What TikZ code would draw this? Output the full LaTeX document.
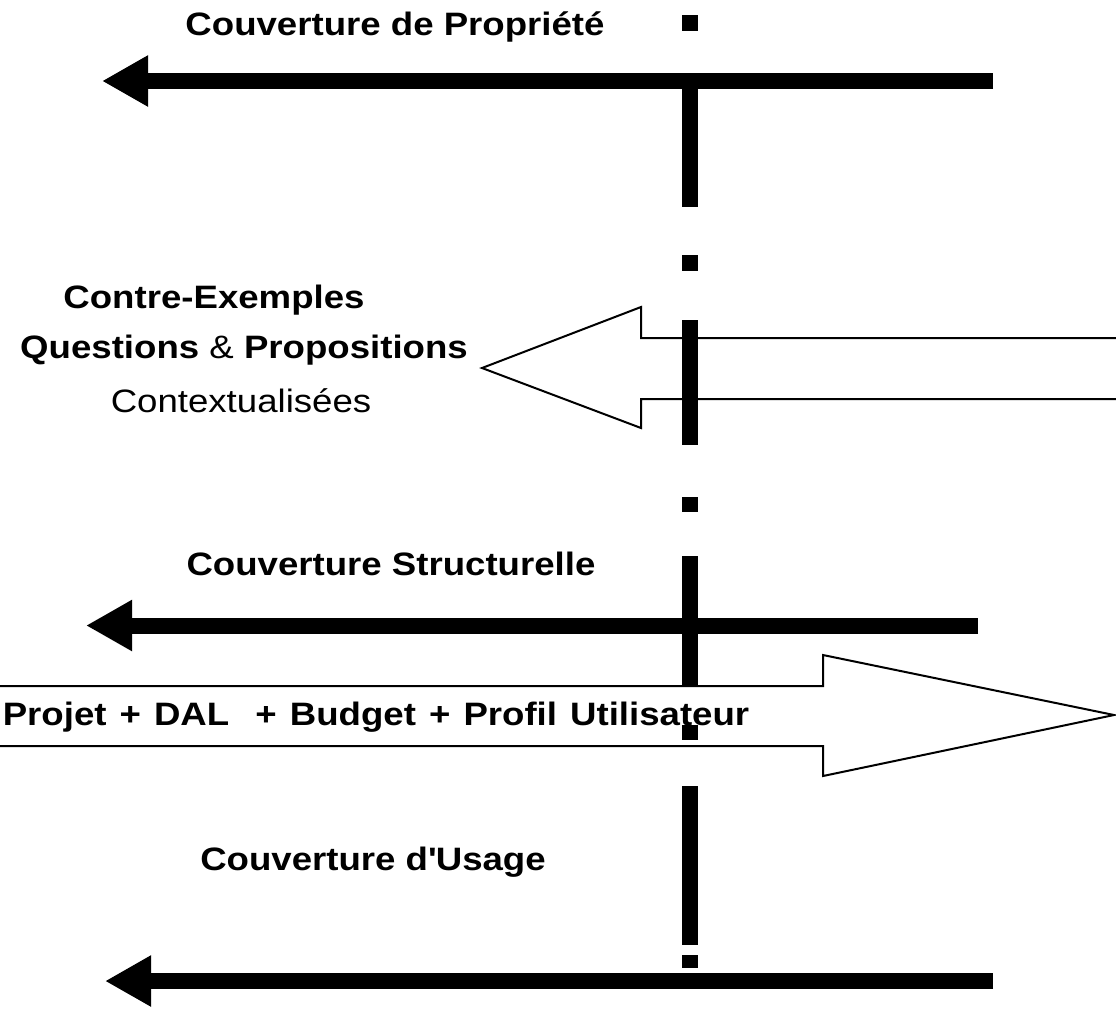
\documentclass[tikz,border=0pt]{standalone}
\usepackage{fontspec}
\setmainfont{Liberation Sans}[FakeStretch=1.13]
\usetikzlibrary{arrows.meta}

\begin{document}
\begin{tikzpicture}[x=0.75pt, y=-0.75pt, >={Triangle[length=34.5pt, width=36pt]}]
	\tikzstyle{lbl} = [anchor=base, inner sep=0pt, font=\fontsize{24.3}{29}\selectfont]
	\tikzstyle{fat} = [->, line width=12pt]
	\tikzstyle{hollow} = [draw, fill=white, line width=1.5pt, miter limit=10]
	\tikzstyle{axe} = [line width=12pt]

	\useasboundingbox (0,0) rectangle (1116,1026);
	\clip (0,0) rectangle (1116,1026);

	% hollow arrows
	\path[hollow] (1130,338) -- (641,338) -- (641,307) -- (482,368) -- (641,428)
		-- (641,399) -- (1130,399) -- cycle;
	\path[hollow] (-20,686) -- (823,686) -- (823,655) -- (1114,715) -- (823,776)
		-- (823,746) -- (-20,746) -- cycle;

	% thick arrows
	\coordinate (propR) at (993,81);
	\coordinate (propL) at (102,81);
	\coordinate (structR) at (978,625.5);
	\coordinate (structL) at (86,625.5);
	\coordinate (usageR) at (993,981);
	\coordinate (usageL) at (105,981);
	\draw[fat] (propR) -- (propL);
	\draw[fat] (structR) -- (structL);
	\draw[fat] (usageR) -- (usageL);

	% dash-dot axis
	\foreach \a/\b in {15/31, 73/207, 255/271, 320/445, 497/512, 556/686, 725/740, 786/945, 955/968}
		\draw[axe] (690,\a) -- (690,\b);

	\path
	node[lbl] (prop) at (395,35) {\textbf{Couverture de Propriété}}
	node[lbl] (contre) at (214,308) {\textbf{Contre-Exemples}}
	node[lbl] (quest) at (244,358) {\textbf{Questions} \& \textbf{Propositions}}
	node[lbl] (context) at (241,412) {Contextualisées}
	node[lbl] (struct) at (391,575) {\textbf{Couverture Structurelle}}
	node[lbl] (projet) at (376,725) {\spaceskip=9.8pt\textbf{Projet + DAL~ + Budget + Profil Utilisateur}}
	node[lbl] (usage) at (373,870) {\textbf{Couverture d\textquotesingle Usage}}
	;
\end{tikzpicture}
\end{document}
